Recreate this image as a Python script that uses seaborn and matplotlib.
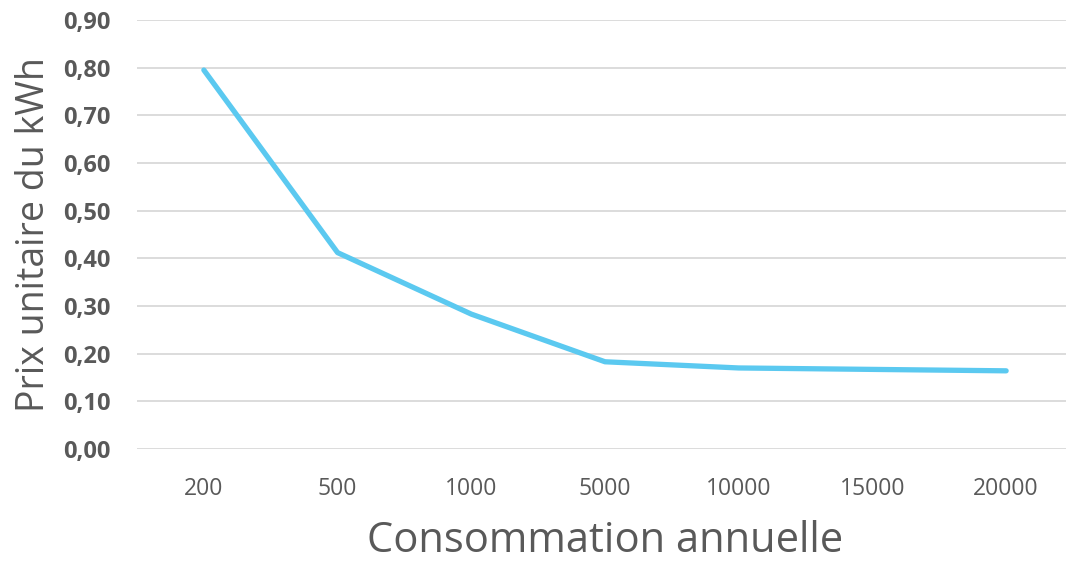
import matplotlib
matplotlib.use("Agg")
import matplotlib.pyplot as plt
import seaborn as sns
import pandas as pd
from matplotlib.ticker import FuncFormatter, MultipleLocator

consommation = ["200", "500", "1000", "5000", "10000", "15000", "20000"]
prix_kwh = [0.795, 0.412, 0.283, 0.183, 0.170, 0.167, 0.164]

df = pd.DataFrame({"Consommation annuelle": consommation, "Prix unitaire du kWh": prix_kwh})

sns.set_theme(style="white")
plt.rcParams["font.family"] = ["Open Sans", "DejaVu Sans"]

fig = plt.figure(figsize=(10.66, 5.61), dpi=100)
ax = fig.add_axes([137 / 1066, 1 - 449 / 561, 936 / 1066, 429 / 561])

sns.lineplot(data=df, x="Consommation annuelle", y="Prix unitaire du kWh", ax=ax,
             sort=False, color="#5BC9F0", linewidth=3.8, solid_capstyle="round")

ax.set_xlim(-0.5, len(consommation) - 0.5)
ax.set_ylim(0, 0.9)
ax.yaxis.set_major_locator(MultipleLocator(0.1))
ax.yaxis.set_major_formatter(FuncFormatter(lambda v, p: f"{v:.2f}".replace(".", ",")))
ax.grid(axis="y", color="#D9D9D9", linewidth=1.3)
ax.grid(axis="x", visible=False)
ax.set_axisbelow(True)
for s in ax.spines.values():
    s.set_visible(False)

txt = "#595959"
ax.tick_params(axis="x", length=0, pad=20, labelsize=16.5, labelcolor=txt)
ax.tick_params(axis="y", length=0, pad=19, labelsize=17, labelcolor=txt)
for lab in ax.get_yticklabels():
    lab.set_fontweight("bold")

ax.set_xlabel("Consommation annuelle", fontsize=30, color=txt, labelpad=14)
ax.set_ylabel("Prix unitaire du kWh", fontsize=27, color=txt, labelpad=7)

fig.savefig("out.png", dpi=100)
